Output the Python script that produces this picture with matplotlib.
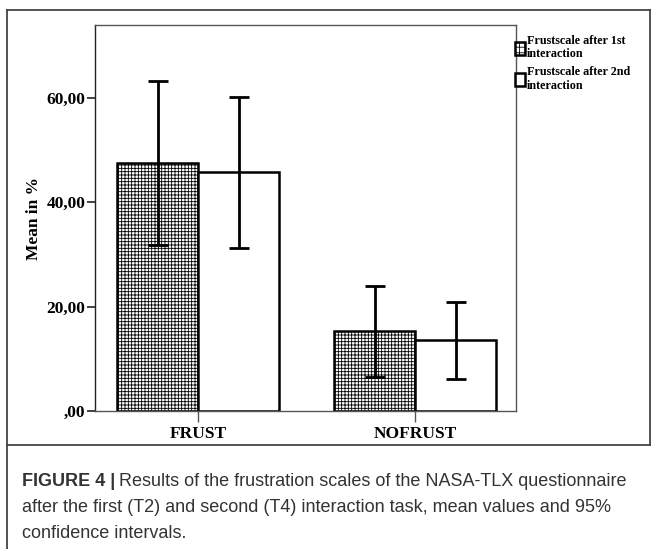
import matplotlib
matplotlib.use("Agg")
import matplotlib.pyplot as plt
from matplotlib.lines import Line2D
from matplotlib.patches import Patch
import numpy as np

categories = ["FRUST", "NOFRUST"]
series_names = ["Frustscale after 1st\ninteraction", "Frustscale after 2nd\ninteraction"]
means_1st = [47.5, 15.3]
means_2nd = [45.7, 13.6]
ci_low_1st = [31.8, 6.5]
ci_high_1st = [63.2, 23.9]
ci_low_2nd = [31.2, 6.1]
ci_high_2nd = [60.1, 20.9]
ytick_vals = [0, 20, 40, 60]
ytick_labels = [",00", "20,00", "40,00", "60,00"]

plt.rcParams["hatch.linewidth"] = 0.6
serif = ["Liberation Serif", "DejaVu Serif"]
sans = ["Liberation Sans", "DejaVu Sans"]

fig = plt.figure(figsize=(6.57, 5.49), dpi=100)
ax = fig.add_axes([95 / 657, 1 - 411 / 549, 421 / 657, 386 / 549])

x = np.arange(len(categories))
w = 0.373

ax.bar(x - w / 2, means_1st, w, color="white", edgecolor="black",
       hatch="+++++", linewidth=1.8, zorder=2)
ax.bar(x + w / 2, means_2nd, w, color="white", edgecolor="black",
       linewidth=1.8, zorder=2)

for xs, m, lo, hi in [(x - w / 2, means_1st, ci_low_1st, ci_high_1st),
                      (x + w / 2, means_2nd, ci_low_2nd, ci_high_2nd)]:
    m = np.array(m)
    err = [m - np.array(lo), np.array(hi) - m]
    ax.errorbar(xs, m, yerr=err, fmt="none", ecolor="black", elinewidth=2,
                capsize=7.5, capthick=2, zorder=3)

ax.set_xlim(-0.475, 1.465)
ax.set_ylim(0, 73.9)
ax.set_yticks(ytick_vals)
ax.set_yticklabels(ytick_labels, family=serif, fontweight="bold", fontsize=12.5)
ax.set_xticks(x)
ax.set_xticklabels(categories, family=serif, fontweight="bold", fontsize=12.5)
ax.tick_params(axis="y", length=6, width=1.2, color="#222222", pad=1)
ax.tick_params(axis="x", length=8, width=1, color="#555555", pad=3)
for s in ax.spines.values():
    s.set_color("#555555")
    s.set_linewidth(1)
ax.spines["left"].set_color("#222222")
ax.set_ylabel("Mean in %", family=serif, fontweight="bold", fontsize=12.5)
ax.yaxis.set_label_coords(-0.125, 0.5)

handles = [Patch(facecolor="white", edgecolor="black", hatch="+++", linewidth=1.8),
           Patch(facecolor="white", edgecolor="black", linewidth=1.8)]
leg = fig.legend(handles, series_names, loc="upper left", bbox_to_anchor=(515 / 657, 1 - 35 / 549),
                 frameon=False, prop={"family": serif, "weight": "bold", "size": 8.7},
                 handlelength=0.8, handleheight=1.3, handletextpad=0.2, labelspacing=0.5,
                 borderpad=0, borderaxespad=0)
for txt in leg.get_texts():
    txt.set_linespacing(1.15)

# outer frame
W, H = 657, 549
fc = "#444444"
fig.add_artist(Line2D([7 / W, 650 / W], [1 - 10 / H, 1 - 10 / H], color=fc, lw=1.3))
fig.add_artist(Line2D([7 / W, 7 / W], [1 - 10 / H, 0], color=fc, lw=1.3))
fig.add_artist(Line2D([650 / W, 650 / W], [1 - 10 / H, 1 - 445 / H], color=fc, lw=1.3))
fig.add_artist(Line2D([7 / W, 650 / W], [1 - 445 / H, 1 - 445 / H], color=fc, lw=1.3))

# caption
cap_color = "#333333"
cap_size = 13
y1 = 1 - 481 / H
t = fig.text(22 / W, y1, "FIGURE 4 |", family=sans, fontweight="bold", fontsize=cap_size,
             color=cap_color, va="center")
fig.canvas.draw()
bb = t.get_window_extent()
fig.text((bb.x1 + 4) / W, y1, "Results of the frustration scales of the NASA-TLX questionnaire",
         family=sans, fontsize=cap_size, color=cap_color, va="center")
fig.text(22 / W, 1 - 507 / H, "after the first (T2) and second (T4) interaction task, mean values and 95%",
         family=sans, fontsize=cap_size, color=cap_color, va="center")
fig.text(22 / W, 1 - 533 / H, "confidence intervals.",
         family=sans, fontsize=cap_size, color=cap_color, va="center")

fig.savefig("out.png", dpi=100)
